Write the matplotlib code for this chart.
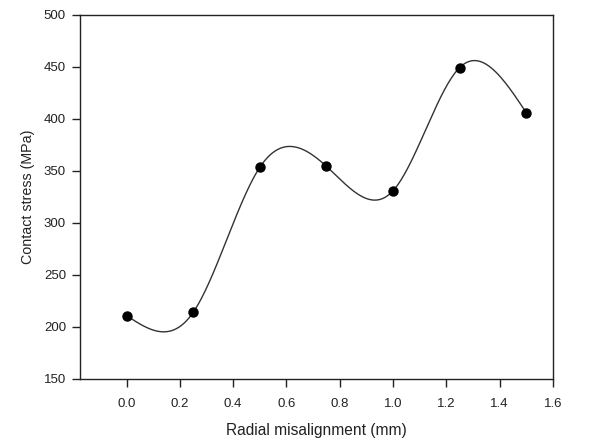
import numpy as np
import matplotlib
matplotlib.use("Agg")
import matplotlib.pyplot as plt

plt.rcParams["font.family"] = ["Liberation Sans", "DejaVu Sans"]

misalignment = [0.0, 0.25, 0.5, 0.75, 1.0, 1.25, 1.5]
stress = [211, 214, 353.5, 354.5, 331, 449.5, 406]
xticks = [0.0, 0.2, 0.4, 0.6, 0.8, 1.0, 1.2, 1.4, 1.6]
yticks = [150, 200, 250, 300, 350, 400, 450, 500]


def natural_spline(x, y, xs):
    # plain natural cubic spline, no scipy needed
    x = np.asarray(x, float)
    y = np.asarray(y, float)
    n = len(x)
    h = np.diff(x)
    A = np.zeros((n, n))
    b = np.zeros(n)
    A[0, 0] = A[-1, -1] = 1
    for i in range(1, n - 1):
        A[i, i - 1] = h[i - 1]
        A[i, i] = 2 * (h[i - 1] + h[i])
        A[i, i + 1] = h[i]
        b[i] = 3 * ((y[i + 1] - y[i]) / h[i] - (y[i] - y[i - 1]) / h[i - 1])
    c = np.linalg.solve(A, b)
    idx = np.clip(np.searchsorted(x, xs) - 1, 0, n - 2)
    dx = xs - x[idx]
    bb = (y[idx + 1] - y[idx]) / h[idx] - h[idx] * (2 * c[idx] + c[idx + 1]) / 3
    d = (c[idx + 1] - c[idx]) / (3 * h[idx])
    return y[idx] + bb * dx + c[idx] * dx ** 2 + d * dx ** 3


xs = np.linspace(misalignment[0], misalignment[-1], 400)
ys = natural_spline(misalignment, stress, xs)

fig = plt.figure(figsize=(6.05, 4.41), dpi=100)
ax = fig.add_axes([0.132, 0.1406, 0.782, 0.8254])

ax.plot(xs, ys, color="#333333", lw=1.0)
ax.plot(misalignment, stress, "o", color="black", ms=6.5)

ax.set_xlim(-0.175, 1.6)
ax.set_ylim(150, 500)
ax.set_xticks(xticks)
ax.set_yticks(yticks)
ax.set_xticklabels(["%.1f" % t for t in xticks])
ax.tick_params(direction="out", length=6, width=1, labelsize=9.5, colors="#222222")
ax.tick_params(axis="x", pad=8)
ax.tick_params(axis="y", pad=4)
for s in ax.spines.values():
    s.set_linewidth(1.0)
    s.set_color("#222222")

ax.set_xlabel("Radial misalignment (mm)", fontsize=11.2, color="#222222", labelpad=9)
ax.set_ylabel("Contact stress (MPa)", fontsize=10.3, color="#222222", labelpad=6)

fig.savefig("out.png", dpi=100)
